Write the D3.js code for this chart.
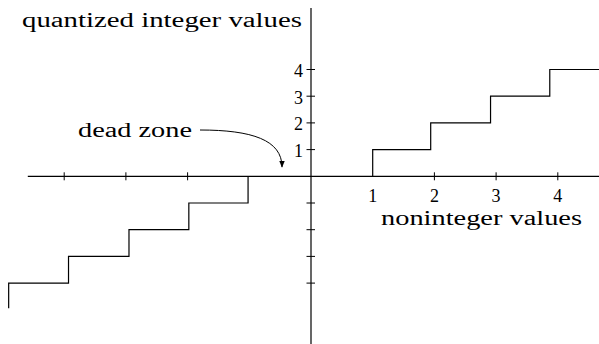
<!DOCTYPE html>
<html lang="en">
<head>
<meta charset="UTF-8">
<title>Quantizer with dead zone</title>
<script src="https://d3js.org/d3.v7.min.js"></script>
<style>
  body { margin: 0; background: #fff; }
  text { font-family: "Liberation Serif", "DejaVu Serif", serif; fill: #000; }
</style>
</head>
<body>
<div id="chart"></div>
<script>
  // data (units of the axes)
  const rightBreaks = [1, 1.94, 2.91, 3.87];      // where the output jumps up
  const rightLevels = [1, 2, 3, 4];
  const rightEnd = 4.75;
  const leftBreaks = [-1.02, -1.98, -2.95, -3.93, -4.9];  // where it jumps down
  const leftLevels = [-1, -2, -3, -4, -4.94];
  const xTicks = [-4, -3, -2, 2, 3, 4];
  const xTickLabels = [1, 2, 3, 4];
  const yTicks = [-4, -3, -2, -1, 1, 2, 3, 4];
  const yTickLabels = [1, 2, 3, 4];

  const width = 599, height = 344;
  const svg = d3.select("#chart").append("svg")
      .attr("width", width)
      .attr("height", height);

  const x = d3.scaleLinear().domain([-5, 5]).range([311 - 5 * 61.7, 311 + 5 * 61.7]);
  const y = d3.scaleLinear().domain([-5, 5]).range([176.3 + 5 * 26.7, 176.3 - 5 * 26.7]);

  const ink = "#000";

  // axes
  svg.append("line")
      .attr("x1", x(-4.59)).attr("x2", width)
      .attr("y1", y(0)).attr("y2", y(0))
      .attr("stroke", ink).attr("stroke-width", 1.2);
  svg.append("line")
      .attr("x1", x(0)).attr("x2", x(0))
      .attr("y1", 8).attr("y2", height)
      .attr("stroke", ink).attr("stroke-width", 1.2);

  svg.selectAll(".xtick").data(xTicks).enter().append("line")
      .attr("x1", d => x(d)).attr("x2", d => x(d))
      .attr("y1", y(0) - 4).attr("y2", y(0) + 4)
      .attr("stroke", ink).attr("stroke-width", 1);
  svg.selectAll(".ytick").data(yTicks).enter().append("line")
      .attr("x1", x(0) - 4.5).attr("x2", x(0) + 4)
      .attr("y1", d => y(d)).attr("y2", d => y(d))
      .attr("stroke", ink).attr("stroke-width", 1);

  svg.selectAll(".xlab").data(xTickLabels).enter().append("text")
      .attr("x", d => x(d)).attr("y", y(0) + 26)
      .attr("text-anchor", "middle")
      .attr("font-size", 18)
      .text(d => d);
  svg.selectAll(".ylab").data(yTickLabels).enter().append("text")
      .attr("x", x(0) - 8).attr("y", d => y(d) + 7.5)
      .attr("text-anchor", "end")
      .attr("font-size", 18)
      .text(d => d);

  // staircase
  const line = d3.line().x(d => x(d[0])).y(d => y(d[1]));
  const rightPts = [[rightBreaks[0], 0]];
  rightBreaks.forEach((b, i) => {
    rightPts.push([b, rightLevels[i]]);
    const next = i < rightBreaks.length - 1 ? rightBreaks[i + 1] : rightEnd;
    rightPts.push([next, rightLevels[i]]);
  });
  const leftPts = [[leftBreaks[0], 0]];
  leftBreaks.forEach((b, i) => {
    leftPts.push([b, leftLevels[i]]);
    if (i < leftBreaks.length - 1) leftPts.push([leftBreaks[i + 1], leftLevels[i]]);
  });
  [rightPts, leftPts].forEach(p => {
    svg.append("path")
        .attr("d", line(p))
        .attr("fill", "none")
        .attr("stroke", ink)
        .attr("stroke-width", 1.2);
  });

  // labels, stretched to the width of the original lettering
  const labels = [
    { t: "quantized integer values", x: 22, y: 27, w: 280 },
    { t: "noninteger values", x: 381, y: 225, w: 201 },
    { t: "dead zone", x: 78, y: 137, w: 114 }
  ];
  svg.selectAll(".lab").data(labels).enter().append("text")
      .attr("x", d => d.x).attr("y", d => d.y)
      .attr("font-size", 20)
      .attr("textLength", d => d.w)
      .attr("lengthAdjust", "spacingAndGlyphs")
      .text(d => d.t);

  // curved arrow to the dead zone
  svg.append("defs").append("marker")
      .attr("id", "head")
      .attr("viewBox", "0 0 10 10")
      .attr("refX", 9).attr("refY", 5)
      .attr("markerWidth", 7).attr("markerHeight", 7)
      .attr("markerUnits", "userSpaceOnUse")
      .attr("orient", "auto")
      .append("path").attr("d", "M0,1 L10,5 L0,9 z").attr("fill", ink);
  svg.append("path")
      .attr("d", "M200,130 C252,130 282,140 282,167")
      .attr("fill", "none")
      .attr("stroke", ink)
      .attr("stroke-width", 1)
      .attr("marker-end", "url(#head)");
</script>
</body>
</html>
